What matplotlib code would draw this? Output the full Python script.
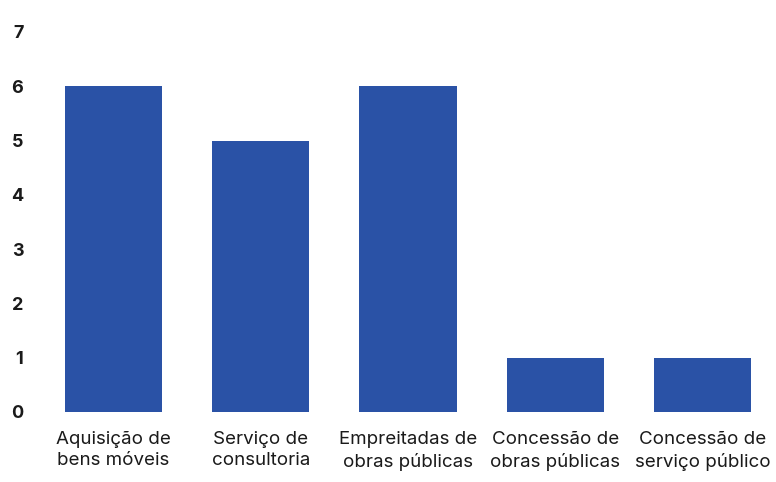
import matplotlib
matplotlib.use("Agg")
import matplotlib.pyplot as plt

categories = [
    "Aquisição de\nbens móveis",
    "Serviço de\nconsultoria",
    "Empreitadas de\nobras públicas",
    "Concessão de\nobras públicas",
    "Concessão de\nserviço público",
]
values = [6, 5, 6, 1, 1]
yticks = [0, 1, 2, 3, 4, 5, 6, 7]

plt.rcParams["font.family"] = ["Inter", "DejaVu Sans"]

fig = plt.figure(figsize=(7.76, 4.82), dpi=100)
ax = fig.add_axes([40 / 776, 1 - 412 / 482, 736 / 776, 380 / 482])

x = range(len(categories))
ax.bar(x, values, width=0.66, color="#2A52A6")

ax.set_xlim(-0.5, 4.5)
ax.set_ylim(0, 7)
ax.set_yticks(yticks)
ax.set_yticklabels([str(t) for t in yticks], fontsize=13, fontweight="bold", color="#1a1a1a")
ax.set_xticks(list(x))
ax.set_xticklabels(categories, fontsize=13.5, color="#1a1a1a", linespacing=1.3)

for s in ax.spines.values():
    s.set_visible(False)
ax.tick_params(axis="both", length=0)
ax.tick_params(axis="y", pad=12)
ax.tick_params(axis="x", pad=14)

fig.savefig("out.png", dpi=100, facecolor="white")
